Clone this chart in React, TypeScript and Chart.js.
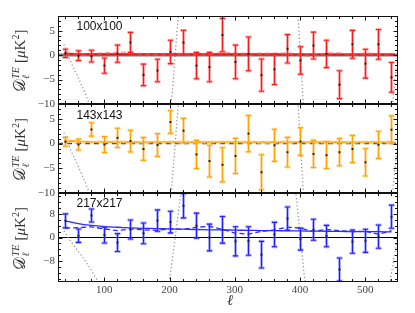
import React, { useEffect, useRef } from "react";
import { Chart, registerables } from "chart.js";
Chart.register(...registerables);

// ---------------- data ----------------
const ELL = [40, 60, 80, 100, 120, 140, 160, 180, 200, 220, 240, 260, 280, 300, 320, 340, 360, 380, 400, 420, 440, 460, 480, 500, 520, 540];

const P1_VAL = [0.35, -0.1, -0.2, -2.15, 0.3, 2.6, -4.05, -3.15, 0.65, 2.55, -2.15, -2.45, 4.1, -1.4, 0.25, -4.1, -2.9, 1.3, -1.1, 1.95, 0.25, -6.05, 2.2, -1.75, 2.2, -4.55];
const P1_ERR = [0.85, 1.0, 1.2, 1.55, 1.75, 2.05, 2.2, 2.3, 2.4, 2.5, 2.7, 3.0, 3.4, 3.45, 3.45, 3.3, 3.1, 2.9, 2.8, 2.75, 2.8, 2.85, 2.85, 2.95, 3.05, 3.05];
const P1_FIT_ELL = [38, 60, 100, 200, 300, 400, 545];
const P1_FIT = [0.3, 0.22, 0.2, 0.18, 0.16, 0.15, 0.15];
const P1_BIN = [0.45, 0.1, 0.15, 0.35, 0.5, 0.45, 0.15, 0.1, 0.3, 0.2, 0.25, 0.2, 0.45, 0.3, 0.2, 0.3, 0.25, 0.35, 0.05, -0.15, 0.3, 0.35, 0.1, 0.3, 0.15, 0.2];

const P2_VAL = [0.35, -0.2, 2.85, -0.2, 1.15, 0.5, -1.1, -0.3, 4.35, 2.6, -2.2, -3.55, -4.3, -2.5, 2.0, -5.8, -0.35, -1.75, 0.4, -2.1, -2.35, -1.75, -1.1, -3.8, -0.25, 2.8];
const P2_ERR = [0.9, 1.1, 1.35, 1.6, 1.95, 2.2, 2.3, 2.3, 2.3, 2.5, 2.85, 3.2, 3.45, 3.55, 3.65, 3.55, 3.25, 3.0, 2.8, 2.75, 2.7, 2.75, 2.75, 2.75, 2.75, 2.8];
const P2_FIT_ELL = [38, 60, 80, 200, 400, 545];
const P2_FIT = [0.6, 0.4, 0.3, 0.27, 0.25, 0.25];
const P2_BIN = [0.5, 0.2, 0.3, 0.35, 0.4, 0.3, 0.2, 0.25, 0.35, 0.3, 0.2, 0.3, 0.35, 0.25, 0.3, 0.2, 0.25, 0.35, 0.2, 0.15, 0.3, 0.3, 0.2, 0.3, 0.25, 0.3];

const P3_VAL = [5.6, 0.6, 7.4, 0.8, -1.7, 2.7, 1.4, 5.7, 5.2, 10.7, 4.0, 0.0, 2.6, -1.3, -1.2, -5.8, 1.0, 6.4, -0.55, 2.6, 0.5, -10.8, -1.4, -1.1, 0.3, 7.0];
const P3_ERR = [2.35, 2.25, 2.2, 2.65, 3.0, 3.2, 3.5, 3.6, 3.65, 4.1, 4.2, 4.5, 4.5, 4.9, 4.8, 4.5, 4.1, 3.9, 3.7, 3.55, 3.6, 3.9, 3.9, 3.9, 3.9, 3.9];
const P3_FIT = [5.6, 4.7, 4.1, 3.7, 3.45, 3.25, 3.1, 3.0, 2.9, 2.8, 2.7, 2.6, 2.55, 2.5, 2.4, 2.35, 2.3, 2.25, 2.2, 2.15, 2.1, 2.05, 2.0, 1.95, 1.95, 1.9];
const P3_BIN = [3.2, 3.3, 3.6, 2.9, 2.3, 2.9, 2.6, 2.4, 2.9, 2.7, 3.4, 3.8, 2.8, 1.5, 1.1, 2.0, 2.6, 3.5, 3.2, 2.0, 2.7, 2.3, 2.0, 2.1, 1.1, 2.3];

// fiducial TE curve (grey dotted)
const TE_ELL = [38, 50, 60, 70, 80, 90, 100, 120, 150, 170, 190, 200, 205, 210, 215, 220, 240, 270, 300, 330, 360, 380, 390, 395, 400, 405, 410, 420, 450, 470, 490, 510, 525, 535, 540, 545, 550, 555];
const TE_VAL = [2.2, -1.8, -4.6, -7.6, -11.0, -14.8, -19, -29, -40, -38, -26, -14, -6, 2.5, 11, 19, 48, 90, 112, 105, 75, 42, 22, 12, 1, -10, -20, -36, -62, -68, -58, -40, -26, -18, -12, -5.5, 0.5, 7];

const X_MIN = 29;
const X_MAX = 550;
const X_TICKS = [100, 200, 300, 400, 500];
const X_MINOR = [40, 60, 80, 100, 120, 140, 160, 180, 200, 220, 240, 260, 280, 300, 320, 340, 360, 380, 400, 420, 440, 460, 480, 500, 520, 540];
const Y_TICKS_A = [-10, -5, 0, 5];
const Y_MINOR_A = [-9, -8, -7, -6, -5, -4, -3, -2, -1, 0, 1, 2, 3, 4, 5, 6, 7];
const Y_TICKS_B = [-8, 0, 8];
const Y_MINOR_B = [-14, -12, -10, -8, -6, -4, -2, 0, 2, 4, 6, 8, 10, 12, 14];
const LABELS = ["100x100", "143x143", "217x217"];

const SERIF = '"Liberation Serif", "DejaVu Serif", serif';
const SANS = '"Liberation Sans", Arial, sans-serif';

const fmt = (v: number) => (v < 0 ? "\u2212" + Math.abs(v) : String(v));

function drawYTitle(ctx: CanvasRenderingContext2D, cx: number, cy: number) {
  ctx.save();
  ctx.translate(cx, cy);
  ctx.rotate(-Math.PI / 2);
  ctx.fillStyle = "#333";
  ctx.textBaseline = "alphabetic";
  ctx.textAlign = "left";
  const parts: any[] = [
    { t: "\u{1D49F}", f: `16px ${SERIF}`, dy: 0 },
    { sup: "TE", sub: "\u2113", f: `italic 10px ${SERIF}` },
    { t: " [", f: `15px ${SERIF}`, dy: 0 },
    { t: "\u03BC", f: `italic 15px ${SERIF}`, dy: 0 },
    { t: "K", f: `15px ${SERIF}`, dy: 0 },
    { t: "2", f: `10px ${SERIF}`, dy: -6 },
    { t: "]", f: `15px ${SERIF}`, dy: 0 },
  ];
  let total = 0;
  for (const p of parts) {
    ctx.font = p.f;
    if (p.sup) {
      p.w = Math.max(ctx.measureText(p.sup).width, ctx.measureText(p.sub).width) + 1;
    } else p.w = ctx.measureText(p.t).width;
    total += p.w;
  }
  let x = -total / 2;
  for (const p of parts) {
    ctx.font = p.f;
    if (p.sup) {
      ctx.fillText(p.sup, x + 0.5, -6);
      ctx.fillText(p.sub, x + 0.5, 3.5);
    } else ctx.fillText(p.t, x, p.dy);
    x += p.w;
  }
  ctx.restore();
}

function makeDecor(panel: any) {
  return {
    id: "decor" + panel.idx,
    beforeDatasetsDraw(chart: any) {
      const { ctx, chartArea: a, scales } = chart;
      const y = scales.y;
      ctx.save();
      ctx.beginPath();
      ctx.rect(a.left, a.top, a.right - a.left, a.bottom - a.top);
      ctx.clip();
      const y0 = y.getPixelForValue(0);
      ctx.strokeStyle = panel.zeroColor;
      ctx.lineWidth = panel.zeroWidth;
      ctx.setLineDash(panel.zeroDash);
      ctx.beginPath();
      ctx.moveTo(a.left, y0);
      ctx.lineTo(a.right, y0);
      ctx.stroke();
      ctx.setLineDash([]);
      ctx.restore();
    },
    afterDatasetsDraw(chart: any) {
      const { ctx, chartArea: a, scales } = chart;
      const x = scales.x, y = scales.y;
      ctx.save();
      ctx.beginPath();
      ctx.rect(a.left, a.top, a.right - a.left, a.bottom - a.top);
      ctx.clip();
      const cap = 2.8;
      for (let i = 0; i < ELL.length; i++) {
        const px = Math.round(x.getPixelForValue(ELL[i])) + 0.5;
        const top = y.getPixelForValue(panel.val[i] + panel.err[i]);
        const bot = y.getPixelForValue(panel.val[i] - panel.err[i]);
        const seg = (w: number, c: string) => {
          ctx.strokeStyle = c;
          ctx.lineWidth = w;
          ctx.beginPath();
          ctx.moveTo(px, top);
          ctx.lineTo(px, bot);
          ctx.moveTo(px - cap, top);
          ctx.lineTo(px + cap, top);
          ctx.moveTo(px - cap, bot);
          ctx.lineTo(px + cap, bot);
          ctx.stroke();
        };
        seg(3, panel.pale);
        seg(1.1, panel.color);
        ctx.fillStyle = "#222";
        const py = y.getPixelForValue(panel.val[i]);
        ctx.fillRect(px - 1, py - 1, 2, 2);
      }
      ctx.restore();
    },
    afterDraw(chart: any) {
      const { ctx, chartArea: a, scales } = chart;
      const x = scales.x, y = scales.y;
      ctx.save();
      ctx.strokeStyle = "#111";
      ctx.lineWidth = 1;
      const L = Math.round(a.left) + 0.5, R = Math.round(a.right) - 0.5;
      const T = Math.round(a.top) + 0.5, B = Math.round(a.bottom) - 0.5;
      ctx.strokeRect(L, T, R - L, B - T);
      ctx.beginPath();
      for (const v of X_MINOR) {
        const px = Math.round(x.getPixelForValue(v)) + 0.5;
        const len = v % 100 === 0 ? 4 : 2.5;
        ctx.moveTo(px, B);
        ctx.lineTo(px, B - len);
        ctx.moveTo(px, T);
        ctx.lineTo(px, T + len);
      }
      for (const v of panel.yMinor) {
        const py = Math.round(y.getPixelForValue(v)) + 0.5;
        const len = panel.yTicks.includes(v) ? 4 : 2.5;
        ctx.moveTo(L, py);
        ctx.lineTo(L + len, py);
        ctx.moveTo(R, py);
        ctx.lineTo(R - len, py);
      }
      ctx.stroke();
      // panel label
      ctx.fillStyle = "#111";
      ctx.font = `12px ${SANS}`;
      ctx.textAlign = "left";
      ctx.textBaseline = "alphabetic";
      ctx.fillText(panel.label, a.left + 18.5, a.top + panel.labelDy);
      // y title
      drawYTitle(ctx, 25, (a.top + a.bottom) / 2 + 1);
      if (panel.showX) {
        ctx.fillStyle = "#333";
        ctx.font = `italic 15px ${SERIF}`;
        ctx.textAlign = "center";
        ctx.textBaseline = "middle";
        ctx.fillText("\u2113", (a.left + a.right) / 2 + 2, 301);
      }
      ctx.restore();
    },
  };
}

function makeConfig(panel: any) {
  const lineDs = (xs: number[], ys: number[], color: string, width: number, dash: number[], tension = 0) => ({
    type: "line",
    data: xs.map((l, i) => ({ x: l, y: ys[i] })),
    borderColor: color,
    borderWidth: width,
    borderDash: dash,
    pointRadius: 0,
    showLine: true,
    fill: false,
    tension,
  });
  const datasets: any[] = [];
  for (const ln of panel.lines) datasets.push(lineDs(ln.x, ln.y, ln.color, ln.width, ln.dash, ln.tension || 0));
  datasets.push(lineDs(TE_ELL, TE_VAL, "#8a8a8a", 1.2, [1.2, 2.4]));
  return {
    type: "scatter",
    data: { datasets },
    options: {
      responsive: false,
      animation: false,
      devicePixelRatio: 1,
      events: [],
      layout: { padding: { left: 0, right: 17, top: panel.top, bottom: panel.bottomPad } },
      plugins: { legend: { display: false }, tooltip: { enabled: false } },
      scales: {
        x: {
          type: "linear",
          min: X_MIN,
          max: X_MAX,
          display: panel.showX,
          grid: { display: false, drawTicks: false },
          border: { display: false },
          ticks: { font: { family: SERIF, size: 11 }, color: "#444", padding: 2, callback: (v: number) => fmt(v), maxRotation: 0 },
          afterBuildTicks: (s: any) => { s.ticks = X_TICKS.map((v) => ({ value: v })); },
          afterFit: (s: any) => { s.height = panel.showX ? 31 : 0; },
        },
        y: {
          type: "linear",
          min: panel.ymin,
          max: panel.ymax,
          grid: { display: false, drawTicks: false },
          border: { display: false },
          ticks: { font: { family: SERIF, size: 11 }, color: "#444", padding: 3, callback: (v: number) => fmt(v) },
          afterBuildTicks: (s: any) => { s.ticks = panel.yTicks.map((v: number) => ({ value: v })); },
          afterFit: (s: any) => { s.width = 58; },
        },
      },
    },
    plugins: [makeDecor(panel)],
  };
}

const PANELS = [
  {
    idx: 0, label: LABELS[0], labelDy: 13.5, top: 16, bottomPad: 209, showX: false,
    ymin: -10, ymax: 8, yTicks: Y_TICKS_A, yMinor: Y_MINOR_A,
    val: P1_VAL, err: P1_ERR, color: "#ff1a1a", pale: "rgba(255,70,70,0.45)",
    zeroColor: "#777", zeroWidth: 3, zeroDash: [],
    lines: [
      { x: ELL, y: P1_BIN, color: "rgba(255,80,80,0.55)", width: 2.5, dash: [5, 3] },
      { x: P1_FIT_ELL, y: P1_FIT, color: "#ee1111", width: 2, dash: [] },
    ],
  },
  {
    idx: 1, label: LABELS[1], labelDy: 14.5, top: 104, bottomPad: 120, showX: false,
    ymin: -10, ymax: 8, yTicks: Y_TICKS_A, yMinor: Y_MINOR_A,
    val: P2_VAL, err: P2_ERR, color: "#ffa500", pale: "rgba(255,190,90,0.55)",
    zeroColor: "#444", zeroWidth: 1.5, zeroDash: [5, 4],
    lines: [
      { x: ELL, y: P2_BIN, color: "rgba(255,200,110,0.6)", width: 3, dash: [5, 3] },
      { x: P2_FIT_ELL, y: P2_FIT, color: "#ffa500", width: 2, dash: [] },
    ],
  },
  {
    idx: 2, label: LABELS[2], labelDy: 14, top: 193, bottomPad: 0, showX: true,
    ymin: -15, ymax: 15, yTicks: Y_TICKS_B, yMinor: Y_MINOR_B,
    val: P3_VAL, err: P3_ERR, color: "#1f1fff", pale: "rgba(90,90,255,0.45)",
    zeroColor: "#000", zeroWidth: 1.2, zeroDash: [],
    lines: [
      { x: ELL, y: P3_BIN, color: "#2a2aff", width: 1.3, dash: [5, 3] },
      { x: ELL, y: P3_FIT, color: "#2a2aff", width: 1.3, dash: [], tension: 0.4 },
    ],
  },
];

export default function App() {
  const r0 = useRef<HTMLCanvasElement | null>(null);
  const r1 = useRef<HTMLCanvasElement | null>(null);
  const r2 = useRef<HTMLCanvasElement | null>(null);
  useEffect(() => {
    const refs = [r0, r1, r2];
    const charts = PANELS.map((p, i) => new Chart(refs[i].current as any, makeConfig(p) as any));
    return () => charts.forEach((c) => c.destroy());
  }, []);
  const cs: React.CSSProperties = { position: "absolute", left: 0, top: 0, width: 415, height: 313 };
  return (
    <div style={{ position: "absolute", left: 0, top: 0, width: 415, height: 313, background: "#fff" }}>
      <canvas ref={r0} width={415} height={313} style={cs} />
      <canvas ref={r1} width={415} height={313} style={cs} />
      <canvas ref={r2} width={415} height={313} style={cs} />
    </div>
  );
}
